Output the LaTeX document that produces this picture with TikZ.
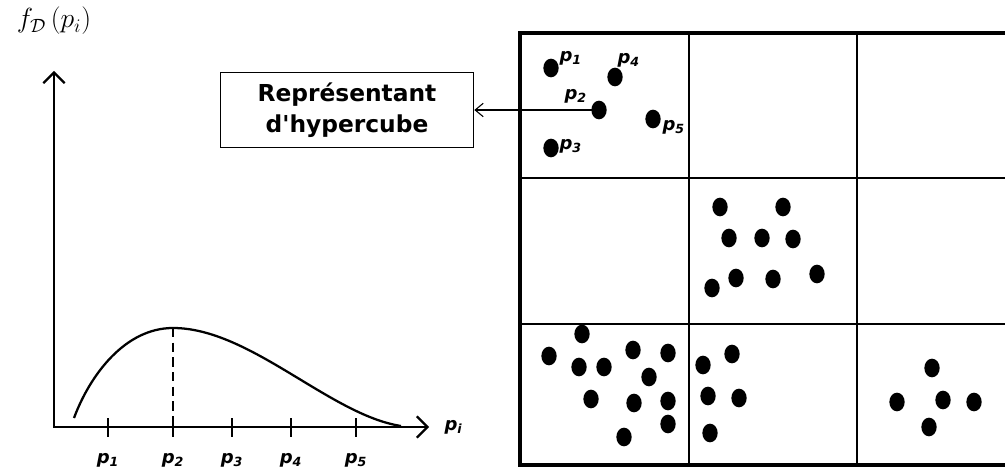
\documentclass[tikz,border=0pt]{standalone}
\usepackage{amsmath, amssymb}
\usepackage{fontspec}
\setsansfont{DejaVu Sans}
\usepackage{tikz}
\usetikzlibrary{arrows.meta, shapes.geometric, positioning}

\begin{document}
\begin{tikzpicture}[x=0.75pt, y=-0.75pt,
    point/.style={ellipse, fill=black, inner sep=0pt, minimum width=11.5pt, minimum height=14pt},
    etiq/.style={font=\sffamily\bfseries\itshape\fontsize{13.5}{15}\selectfont, inner sep=1pt},
    fleche/.style={-{Straight Barb[length=8pt,width=16pt]}}]
    \useasboundingbox (0,0) rectangle (1005,473);

    % Axes de la densité
    \coordinate (O) at (54,427);
    \coordinate (yfin) at (54,71);
    \coordinate (xfin) at (429,427);
    \draw[line width=1.6pt, {Straight Barb[length=8pt,width=16pt]}-{Straight Barb[length=8pt,width=16pt]}] (yfin) -- (O) -- (xfin);
    \node[font=\fontsize{20}{22}\selectfont] (fD) at (54,21) {$f_{\mathcal{D}}\,(p_i)$};
    \node[etiq, anchor=west] (pi) at (443,427) {p\textsubscript{i}};

    % Graduations et points p1 ... p5
    \foreach \i/\x in {1/108, 2/173, 3/232, 4/291, 5/356} {
        \draw[line width=1.6pt] (\x,418) -- (\x,437);
        \node[etiq] (tick\i) at (\x,460) {p\textsubscript{\i}};
    }

    % Courbe et maximum en p2
    \draw[line width=1.7pt] (74,418) .. controls (90,375) and (125,328) .. (173,328)
        .. controls (250,328) and (330,415) .. (401,426);
    \draw[line width=1pt, dash pattern=on 7pt off 4pt] (173,328) -- (173,427);

    % Grille des hypercubes
    \draw[line width=3pt] (1005,33) -| (520,465) -- (1005,465);
    \draw[line width=1.5pt] (520,178) -- (1005,178) (520,324) -- (1005,324)
        (689,33) -- (689,465) (857,33) -- (857,465);

    % Hypercube avec ses points nommés
    \foreach \n/\x/\y in {1/551/68, 4/615/77, 2/599/110, 5/653/119, 3/551/148}
        \node[point] (p\n) at (\x,\y) {};
    \node[etiq, anchor=west] (lp1) at (558,58) {p\textsubscript{1}};
    \node[etiq, anchor=west] (lp4) at (616,60) {p\textsubscript{4}};
    \node[etiq, anchor=west] (lp2) at (563,96) {p\textsubscript{2}};
    \node[etiq, anchor=west] (lp5) at (661,127) {p\textsubscript{5}};
    \node[etiq, anchor=west] (lp3) at (558,146) {p\textsubscript{3}};

    % Autres hypercubes
    \foreach \x/\y [count=\k] in {720/207, 783/207, 729/238, 762/238, 793/239,
                                  712/288, 736/278, 773/279, 817/274}
        \node[point] (m\k) at (\x,\y) {};
    \foreach \x/\y [count=\k] in {582/334, 549/356, 579/367, 604/367, 633/350, 668/353,
                                  649/377, 591/399, 634/403, 668/401, 668/424, 624/437}
        \node[point] (g\k) at (\x,\y) {};
    \foreach \x/\y [count=\k] in {703/365, 732/354, 708/396, 739/398, 710/433}
        \node[point] (c\k) at (\x,\y) {};
    \foreach \x/\y [count=\k] in {932/368, 897/402, 943/400, 974/402, 929/427}
        \node[point] (d\k) at (\x,\y) {};

    % Représentant
    \node[draw, line width=1pt, minimum width=190pt, minimum height=56pt, align=center,
          font=\sffamily\bfseries\fontsize{17.5}{23}\selectfont] (rep) at (347,110)
          {Représentant\\d\textquotesingle hypercube};
    \draw[line width=0.8pt, -{Straight Barb[length=6pt,width=10pt]}] (p2.center) -- (rep.east);
\end{tikzpicture}
\end{document}
